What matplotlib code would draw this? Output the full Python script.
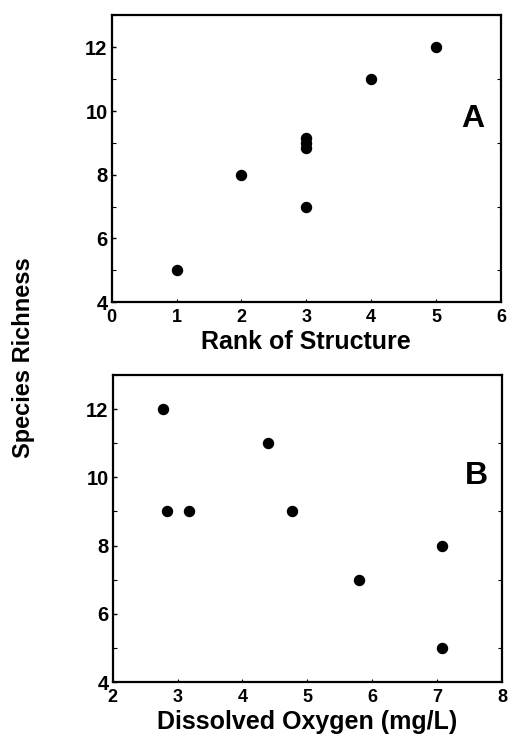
import matplotlib

matplotlib.use("Agg")
import matplotlib.pyplot as plt
from matplotlib.ticker import MultipleLocator

plt.rcParams["font.family"] = ["Liberation Sans", "DejaVu Sans"]
plt.rcParams["font.weight"] = "bold"

# panel A: rank of structure vs species richness
rank = [1, 2, 3, 3, 3, 3, 4, 5]
richness_a = [5, 8, 9.15, 9.0, 8.85, 7, 11, 12]

# panel B: dissolved oxygen vs species richness
oxygen = [2.78, 2.83, 3.18, 4.4, 4.77, 5.8, 7.08, 7.08]
richness_b = [12, 9, 9, 11, 9, 7, 8, 5]

fig = plt.figure(figsize=(5.08, 7.37), dpi=100)
ax_a = fig.add_axes([0.220, 0.590, 0.766, 0.389])
ax_b = fig.add_axes([0.222, 0.0746, 0.766, 0.4166])


def _style(ax, xlim, xlabel):
    ax.set_xlim(*xlim)
    ax.set_ylim(4, 13)
    ax.xaxis.set_major_locator(MultipleLocator(1))
    ax.yaxis.set_major_locator(MultipleLocator(2))
    ax.yaxis.set_minor_locator(MultipleLocator(1))
    ax.tick_params(axis="y", which="major", direction="in", length=3, width=1.0,
                   labelsize=14.5, pad=3)
    ax.tick_params(axis="y", which="minor", direction="in", length=3, width=0.8,
                   right=True)
    ax.tick_params(axis="x", which="major", direction="in", length=2, width=0.8,
                   labelsize=13, pad=5)
    for label in ax.get_xticklabels() + ax.get_yticklabels():
        label.set_fontweight("bold")
    for spine in ax.spines.values():
        spine.set_linewidth(1.6)
    ax.set_xlabel(xlabel, fontsize=18, fontweight="bold", labelpad=3)


ax_a.scatter(rank, richness_a, s=52, color="black", zorder=3)
_style(ax_a, (0, 6), "Rank of Structure")
ax_a.text(5.57, 9.75, "A", fontsize=23, fontweight="bold", ha="center", va="center")

ax_b.scatter(oxygen, richness_b, s=52, color="black", zorder=3)
_style(ax_b, (2, 8), "Dissolved Oxygen (mg/L)")
ax_b.text(7.6, 10.05, "B", fontsize=23, fontweight="bold", ha="center", va="center")

fig.text(0.047, 0.515, "Species Richness", rotation=90, fontsize=17,
         fontweight="bold", ha="center", va="center")

fig.savefig("out.png", dpi=100)
plt.close(fig)
